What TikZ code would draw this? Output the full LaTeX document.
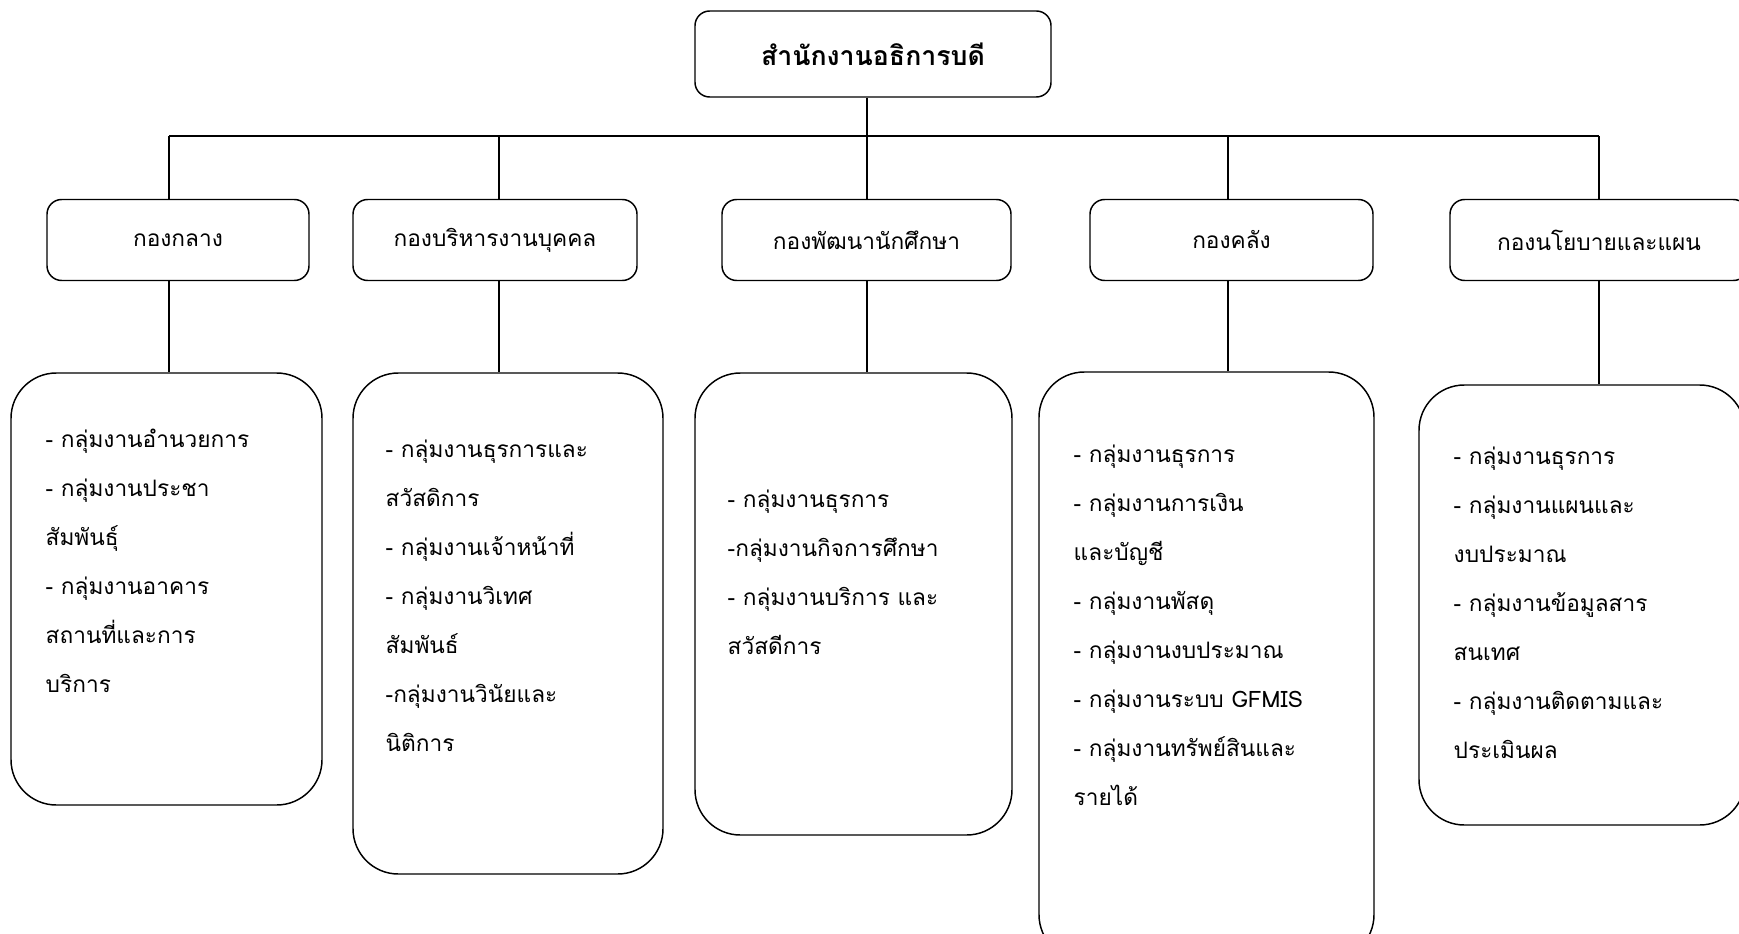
\documentclass[tikz,border=0pt]{standalone}
\usepackage{fontspec}
\setmainfont[Script=Thai]{Loma}

\begin{document}
\begin{tikzpicture}[x=0.75pt, y=-0.75pt, line width=1.1pt,
    wh/.style 2 args={minimum width=#1*0.75pt, minimum height=#2*0.75pt},
    head/.style={draw, rounded corners=11pt, fill=white, inner sep=0pt,
        font=\fontsize{17}{20}\selectfont},
    group/.style={draw, rounded corners=34pt, inner sep=0pt},
    list/.style={anchor=north west, align=left, inner sep=0pt,
        font=\fontsize{17}{36.75}\selectfont}]
    \useasboundingbox (0,0) rectangle (1739,934);
    \clip (0,0) rectangle (1739,934);

    % top office
    \node[head, wh={356}{86}, font=\fontsize{20}{23}\selectfont\bfseries] (top) at (873,54) {สำนักงานอธิการบดี};

    % divisions
    \node[head, wh={262}{81}] (b1) at (178,240) {กองกลาง};
    \node[head, wh={284}{81}] (b2) at (495,240) {กองบริหารงานบุคคล};
    \node[head, wh={289}{81}] (b3) at (866.5,240) {กองพัฒนานักศึกษา};
    \node[head, wh={283}{81}] (b4) at (1231.5,240) {กองคลัง};
    \node[head, wh={298}{81}] (b5) at (1599,240) {กองนโยบายและแผน};

    % work groups
    \node[group, wh={311}{432}] (c1) at (166.5,589) {};
    \node[group, wh={310}{501}] (c2) at (508,623.5) {};
    \node[group, wh={317}{462}] (c3) at (853.5,604) {};
    \node[group, wh={335}{588}] (c4) at (1206.5,666) {};
    \node[group, wh={326}{440}] (c5) at (1582,605) {};

    \node[list] (t1) at (45,428) {- กลุ่มงานอำนวยการ\\- กลุ่มงานประชา\\สัมพันธุ์\\- กลุ่มงานอาคาร\\สถานที่และการ\\บริการ};
    \node[list] (t2) at (385,439) {- กลุ่มงานธุรการและ\\สวัสดิการ\\- กลุ่มงานเจ้าหน้าที่\\- กลุ่มงานวิเทศ\\สัมพันธ์\\-กลุ่มงานวินัยและ\\นิติการ};
    \node[list] (t3) at (727,489) {- กลุ่มงานธุรการ\\-กลุ่มงานกิจการศึกษา\\- กลุ่มงานบริการ และ\\สวัสดีการ};
    \node[list] (t4) at (1073,444) {- กลุ่มงานธุรการ\\- กลุ่มงานการเงิน\\และบัญชี\\- กลุ่มงานพัสดุ\\- กลุ่มงานงบประมาณ\\- กลุ่มงานระบบ GFMIS\\- กลุ่มงานทรัพย์สินและ\\รายได้};
    \node[list] (t5) at (1453,446) {- กลุ่มงานธุรการ\\- กลุ่มงานแผนและ\\งบประมาณ\\- กลุ่มงานข้อมูลสาร\\สนเทศ\\- กลุ่มงานติดตามและ\\ประเมินผล};

    % connectors
    \coordinate (s1) at (169,136);
    \coordinate (s2) at (499,136);
    \coordinate (s3) at (867,136);
    \coordinate (s4) at (1228,136);
    \coordinate (s5) at (1599,136);
    \draw (top.south -| s3) -- (s3);
    \draw (s1) -- (s5);
    \foreach \i in {1,...,5} {
        \draw (s\i) -- (s\i |- b\i.north);
        \draw (s\i |- b\i.south) -- (s\i |- c\i.north);
    }
\end{tikzpicture}
\end{document}
